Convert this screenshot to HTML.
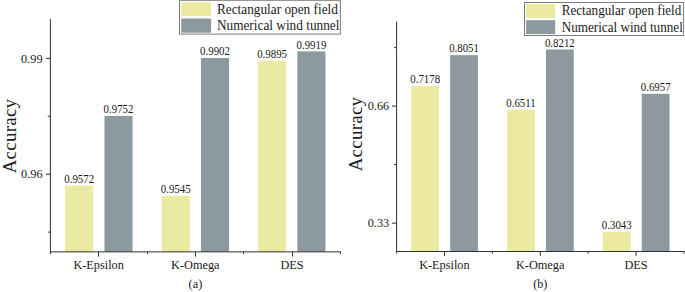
<!DOCTYPE html>
<html><head><meta charset="utf-8"><title>chart</title>
<style>
html,body{margin:0;padding:0;background:#fff;}
body{width:685px;height:292px;overflow:hidden;}
svg{display:block;}
text{font-family:"Liberation Serif",serif;fill:#1a1a1a;}
.t12{font-size:12.9px;}
.t11{font-size:11.6px;}
.lga{font-size:14px;}
.lgb{font-size:13.9px;}
.yl{font-size:19px;letter-spacing:0.25px;}
</style></head><body>
<svg width="685" height="292" viewBox="0 0 685 292">
<rect x="0" y="0" width="685" height="292" fill="#fff"/>

<rect x="65.15" y="185.52" width="28.10" height="66.33" fill="#ECE9A2"/>
<text class="t11" text-anchor="middle" transform="translate(79.20,182.82) scale(0.9353,1)">0.9572</text>
<rect x="104.45" y="115.95" width="28.10" height="135.90" fill="#8C999E"/>
<text class="t11" text-anchor="middle" transform="translate(118.50,113.25) scale(0.9353,1)">0.9752</text>
<rect x="161.65" y="195.95" width="28.10" height="55.90" fill="#ECE9A2"/>
<text class="t11" text-anchor="middle" transform="translate(175.70,193.25) scale(0.9353,1)">0.9545</text>
<rect x="200.95" y="57.97" width="28.10" height="193.88" fill="#8C999E"/>
<text class="t11" text-anchor="middle" transform="translate(215.00,55.27) scale(0.9353,1)">0.9902</text>
<rect x="258.05" y="60.68" width="28.10" height="191.17" fill="#ECE9A2"/>
<text class="t11" text-anchor="middle" transform="translate(272.10,57.98) scale(0.9353,1)">0.9895</text>
<rect x="297.35" y="51.40" width="28.10" height="200.45" fill="#8C999E"/>
<text class="t11" text-anchor="middle" transform="translate(311.40,48.70) scale(0.9353,1)">0.9919</text>
<line x1="50.40" y1="19.00" x2="50.40" y2="252.35" stroke="#333" stroke-width="1"/>
<line x1="49.90" y1="251.85" x2="341.00" y2="251.85" stroke="#333" stroke-width="1"/>
<line x1="45.80" y1="58.40" x2="50.40" y2="58.40" stroke="#333" stroke-width="1"/>
<text class="t12" text-anchor="end" transform="translate(42.60,62.50) scale(0.9535,1)">0.99</text>
<line x1="45.80" y1="174.20" x2="50.40" y2="174.20" stroke="#333" stroke-width="1"/>
<text class="t12" text-anchor="end" transform="translate(42.60,178.30) scale(0.9535,1)">0.96</text>
<line x1="47.80" y1="116.30" x2="50.40" y2="116.30" stroke="#333" stroke-width="1"/>
<line x1="47.80" y1="232.10" x2="50.40" y2="232.10" stroke="#333" stroke-width="1"/>
<line x1="50.50" y1="251.85" x2="50.50" y2="254.05" stroke="#333" stroke-width="1"/>
<line x1="98.50" y1="251.85" x2="98.50" y2="256.65" stroke="#333" stroke-width="1"/>
<line x1="147.50" y1="251.85" x2="147.50" y2="254.05" stroke="#333" stroke-width="1"/>
<line x1="195.50" y1="251.85" x2="195.50" y2="256.65" stroke="#333" stroke-width="1"/>
<line x1="243.50" y1="251.85" x2="243.50" y2="254.05" stroke="#333" stroke-width="1"/>
<line x1="292.50" y1="251.85" x2="292.50" y2="256.65" stroke="#333" stroke-width="1"/>
<line x1="340.50" y1="251.85" x2="340.50" y2="254.05" stroke="#333" stroke-width="1"/>
<text class="t12" text-anchor="middle" transform="translate(98.65,268.80) scale(0.9535,1)">K-Epsilon</text>
<text class="t12" text-anchor="middle" transform="translate(195.35,268.80) scale(0.9535,1)">K-Omega</text>
<text class="t12" text-anchor="middle" transform="translate(292.05,268.80) scale(0.9535,1)">DES</text>
<text class="t12" text-anchor="middle" transform="translate(195.40,287.80) scale(0.9535,1)">(a)</text>
<text class="yl" text-anchor="middle" transform="translate(15.50,136.00) rotate(-90) scale(1,0.97)">Accuracy</text>
<rect x="411.25" y="86.00" width="27.80" height="165.50" fill="#ECE9A2"/>
<text class="t11" text-anchor="middle" transform="translate(425.15,83.30) scale(0.9353,1)">0.7178</text>
<rect x="450.15" y="55.16" width="27.80" height="196.34" fill="#8C999E"/>
<text class="t11" text-anchor="middle" transform="translate(464.05,52.46) scale(0.9353,1)">0.8051</text>
<rect x="507.05" y="109.57" width="27.80" height="141.93" fill="#ECE9A2"/>
<text class="t11" text-anchor="middle" transform="translate(520.95,106.87) scale(0.9353,1)">0.6511</text>
<rect x="545.95" y="49.47" width="27.80" height="202.03" fill="#8C999E"/>
<text class="t11" text-anchor="middle" transform="translate(559.85,46.77) scale(0.9353,1)">0.8212</text>
<rect x="602.85" y="232.09" width="27.80" height="19.41" fill="#ECE9A2"/>
<text class="t11" text-anchor="middle" transform="translate(616.75,229.39) scale(0.9353,1)">0.3043</text>
<rect x="641.75" y="93.81" width="27.80" height="157.69" fill="#8C999E"/>
<text class="t11" text-anchor="middle" transform="translate(655.65,91.11) scale(0.9353,1)">0.6957</text>
<line x1="396.60" y1="21.50" x2="396.60" y2="252.00" stroke="#333" stroke-width="1"/>
<line x1="396.10" y1="251.50" x2="684.50" y2="251.50" stroke="#333" stroke-width="1"/>
<line x1="392.00" y1="106.10" x2="396.60" y2="106.10" stroke="#333" stroke-width="1"/>
<text class="t12" text-anchor="end" transform="translate(389.20,110.20) scale(0.9535,1)">0.66</text>
<line x1="392.00" y1="223.15" x2="396.60" y2="223.15" stroke="#333" stroke-width="1"/>
<text class="t12" text-anchor="end" transform="translate(389.20,227.25) scale(0.9535,1)">0.33</text>
<line x1="394.00" y1="47.60" x2="396.60" y2="47.60" stroke="#333" stroke-width="1"/>
<line x1="394.00" y1="164.60" x2="396.60" y2="164.60" stroke="#333" stroke-width="1"/>
<line x1="396.60" y1="251.50" x2="396.60" y2="253.70" stroke="#333" stroke-width="1"/>
<line x1="444.50" y1="251.50" x2="444.50" y2="255.90" stroke="#333" stroke-width="1"/>
<line x1="492.40" y1="251.50" x2="492.40" y2="253.70" stroke="#333" stroke-width="1"/>
<line x1="540.30" y1="251.50" x2="540.30" y2="255.90" stroke="#333" stroke-width="1"/>
<line x1="588.20" y1="251.50" x2="588.20" y2="253.70" stroke="#333" stroke-width="1"/>
<line x1="636.10" y1="251.50" x2="636.10" y2="255.90" stroke="#333" stroke-width="1"/>
<line x1="684.00" y1="251.50" x2="684.00" y2="253.70" stroke="#333" stroke-width="1"/>
<text class="t12" text-anchor="middle" transform="translate(444.40,268.80) scale(0.9535,1)">K-Epsilon</text>
<text class="t12" text-anchor="middle" transform="translate(540.20,268.80) scale(0.9535,1)">K-Omega</text>
<text class="t12" text-anchor="middle" transform="translate(636.00,268.80) scale(0.9535,1)">DES</text>
<text class="t12" text-anchor="middle" transform="translate(540.30,287.80) scale(0.9535,1)">(b)</text>
<text class="yl" text-anchor="middle" transform="translate(361.60,134.00) rotate(-90) scale(1,0.97)">Accuracy</text>
<rect x="179.50" y="0.30" width="160.90" height="33.80" fill="#fff" stroke="#7c7c7c" stroke-width="1"/>
<rect x="181.20" y="2.30" width="29.90" height="13.80" fill="#ECE9A2"/>
<rect x="181.20" y="18.50" width="29.90" height="14.20" fill="#8C999E"/>
<text class="lga" text-anchor="start" transform="translate(216.90,13.50) scale(0.9500,1)">Rectangular open field</text>
<text class="lga" text-anchor="start" transform="translate(216.90,30.30) scale(0.9500,1)">Numerical wind tunnel</text>
<rect x="524.50" y="2.50" width="159.10" height="33.00" fill="#fff" stroke="#7c7c7c" stroke-width="1"/>
<rect x="526.10" y="4.20" width="29.10" height="13.80" fill="#ECE9A2"/>
<rect x="526.10" y="20.20" width="29.10" height="13.90" fill="#8C999E"/>
<text class="lgb" text-anchor="start" transform="translate(561.70,15.10) scale(0.9460,1)">Rectangular open field</text>
<text class="lgb" text-anchor="start" transform="translate(561.70,31.70) scale(0.9460,1)">Numerical wind tunnel</text>
</svg></body></html>
